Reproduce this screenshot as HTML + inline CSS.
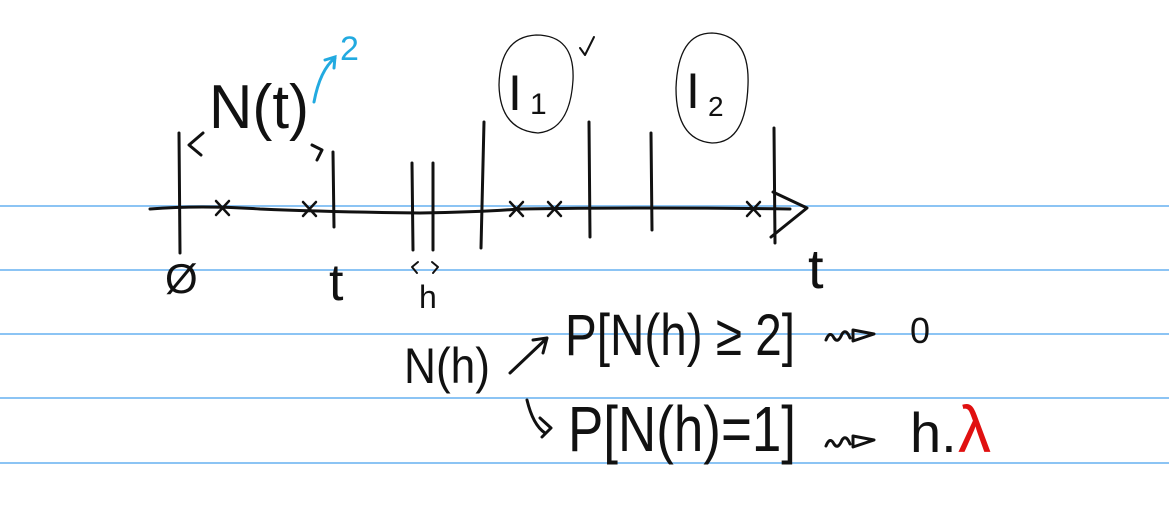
<!DOCTYPE html>
<html><head><meta charset="utf-8"><style>
html,body{margin:0;padding:0;background:#fff;}
svg{display:block;}
text{font-family:"Liberation Sans","DejaVu Sans",sans-serif;fill:#111;}
.s{stroke:#111;stroke-width:3;fill:none;stroke-linecap:round;stroke-linejoin:round;}
.t{stroke:#111;stroke-width:1.3;fill:none;}
</style></head><body>
<svg width="1169" height="508" viewBox="0 0 1169 508">
  <g stroke="#8cc4f4" stroke-width="2">
    <line x1="0" y1="206" x2="1169" y2="206"/>
    <line x1="0" y1="270" x2="1169" y2="270"/>
    <line x1="0" y1="334" x2="1169" y2="334"/>
    <line x1="0" y1="398" x2="1169" y2="398"/>
    <line x1="0" y1="463" x2="1169" y2="463"/>
  </g>
  <g>
    <path class="s" d="M150 209 Q200 205 260 209 Q330 212 420 213 Q480 212 520 209 Q650 207 790 209"/>
    <path class="s" d="M773 192 L807 208 L771 237"/>
  </g>
  <g>
    <path class="s" d="M179 133 L180 253"/>
    <path class="s" d="M333 152 L334 227"/>
    <path class="s" d="M412 163 L413 250"/>
    <path class="s" d="M433 163 L433 250"/>
    <path class="s" d="M484 122 L481 248"/>
    <path class="s" d="M589 122 L590 237"/>
    <path class="s" d="M651 133 L652 230"/>
    <path class="s" d="M774 128 L775 243"/>
  </g>
  <g stroke="#111" stroke-width="2.5" stroke-linecap="round">
    <path d="M216 201 L229 215 M229 201 L216 215"/>
    <path d="M303 202 L316 216 M316 202 L303 216"/>
    <path d="M510 202 L523 216 M523 202 L510 216"/>
    <path d="M548 202 L561 216 M561 202 L548 216"/>
    <path d="M747 202 L760 216 M760 202 L747 216"/>
  </g>
  <path class="s" d="M203 133 L189 145 L201 155"/>
  <path class="s" d="M312 145 L322 150 L317 160"/>
  <text x="209" y="128" font-size="62" textLength="100" lengthAdjust="spacingAndGlyphs">N(t)</text>
  <path d="M314 102 Q320 70 335 58 M325 60 L335 57 L334 68" stroke="#22aae0" stroke-width="3" fill="none" stroke-linecap="round"/>
  <text x="340" y="60" font-size="34" style="fill:#22aae0">2</text>
  <path class="t" d="M536 35 Q575 35 573 80 Q570 130 538 133 Q500 130 499 85 Q500 37 536 35 Z"/>
  <text x="508" y="110" font-size="50">I</text>
  <text x="530" y="114" font-size="30">1</text>
  <path class="s" style="stroke-width:2" d="M580 48 L585 55 L594 37"/>
  <path class="t" d="M712 33 Q750 35 748 85 Q746 143 712 143 Q676 140 676 88 Q678 33 712 33 Z"/>
  <text x="686" y="108" font-size="50">I</text>
  <text x="708" y="116" font-size="28">2</text>
  <text x="165" y="293" font-size="42">Ø</text>
  <text x="329" y="300" font-size="52">t</text>
  <path class="s" style="stroke-width:2" d="M418 262 L412 267 L417 273 M432 262 L438 267 L433 273"/>
  <text x="419" y="308" font-size="32">h</text>
  <text x="808" y="288" font-size="56">t</text>
  <text x="404" y="383" font-size="50" textLength="86" lengthAdjust="spacingAndGlyphs">N(h)</text>
  <path class="s" d="M510 373 L547 338 M533 340 L547 338 L543 353"/>
  <text x="565" y="355" font-size="58" textLength="230" lengthAdjust="spacingAndGlyphs">P[N(h) ≥ 2]</text>
  <path class="s" d="M826 340 Q830 330 834 338 Q838 344 842 334 Q846 328 850 338 M853 330 L874 334 L853 341 Z"/>
  <text x="910" y="343" font-size="36">0</text>
  <path class="s" d="M527 400 Q533 425 545 433 M540 418 L551 428 L542 437"/>
  <text x="568" y="451" font-size="64" textLength="228" lengthAdjust="spacingAndGlyphs">P[N(h)=1]</text>
  <path class="s" d="M826 446 Q830 436 834 444 Q838 450 842 440 Q846 434 850 444 M853 436 L874 440 L853 447 Z"/>
  <text x="910" y="452" font-size="56">h.</text>
  <text x="958" y="452" font-size="66" style="fill:#e01010">λ</text>
</svg>
</body></html>
